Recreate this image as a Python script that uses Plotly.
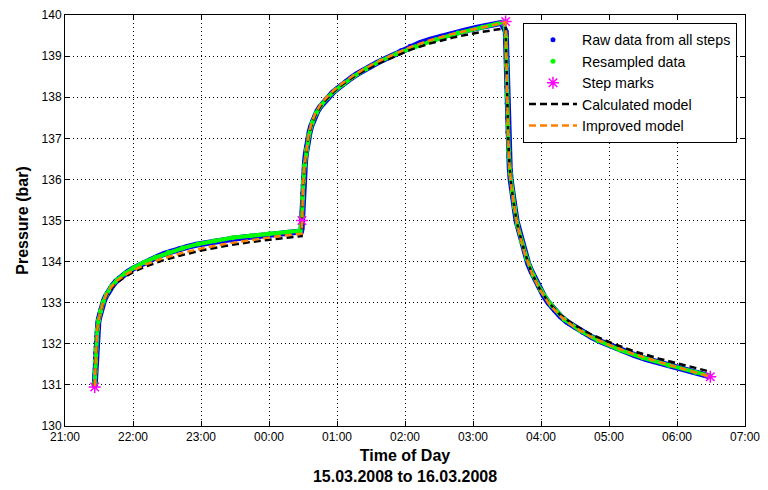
import plotly.graph_objects as go

# ---------------- data (time in hours since 00:00 of 15.03.2008) ----------------
tick_vals = [21, 22, 23, 24, 25, 26, 27, 28, 29, 30, 31]
tick_labels = ["21:00", "22:00", "23:00", "00:00", "01:00", "02:00",
               "03:00", "04:00", "05:00", "06:00", "07:00"]
y_ticks = [130, 131, 132, 133, 134, 135, 136, 137, 138, 139, 140]

raw_t = [21.437, 21.440, 21.442, 21.444, 21.446, 21.449, 21.452, 21.456, 21.460, 21.466,
         21.472, 21.480, 21.490, 21.500, 21.515, 21.530, 21.550, 21.575, 21.600, 21.630,
         21.665, 21.700, 21.750, 21.800, 21.860, 21.920, 22.000, 22.080, 22.170, 22.260,
         22.360, 22.460, 22.560, 22.680, 22.800, 22.930, 23.060, 23.200, 23.350, 23.500,
         23.650, 23.800, 23.950, 24.100, 24.250, 24.400, 24.470,
         24.480, 24.484, 24.488, 24.492, 24.497, 24.503, 24.510, 24.519, 24.530, 24.543,
         24.558, 24.576, 24.597, 24.621, 24.648, 24.678, 24.712, 24.750, 24.792, 24.838,
         24.888, 24.942, 25.000, 25.064, 25.134, 25.210, 25.292, 25.380, 25.476, 25.580,
         25.692, 25.812, 25.940, 26.076, 26.220, 26.372, 26.532, 26.700, 26.876, 27.060,
         27.250, 27.420,
         27.482, 27.486, 27.490, 27.494, 27.498, 27.503, 27.508, 27.514, 27.521, 27.530,
         27.540, 27.552, 27.566, 27.582, 27.600, 27.620, 27.642, 27.668, 27.698, 27.732,
         27.770, 27.812, 27.860, 27.914, 27.974, 28.040, 28.114, 28.196, 28.286, 28.386,
         28.496, 28.616, 28.746, 28.886, 29.036, 29.196, 29.366, 29.546, 29.736, 29.936,
         30.146, 30.366, 30.480]
raw_p = [130.97, 131.10, 131.25, 131.38, 131.50, 131.64, 131.78, 131.92, 132.04, 132.18,
         132.28, 132.39, 132.52, 132.62, 132.73, 132.84, 132.95, 133.06, 133.15, 133.24,
         133.34, 133.42, 133.52, 133.60, 133.68, 133.75, 133.83, 133.90, 133.98, 134.05,
         134.12, 134.19, 134.25, 134.31, 134.36, 134.41, 134.45, 134.49, 134.53, 134.56,
         134.59, 134.62, 134.64, 134.67, 134.69, 134.71, 134.73,
         134.80, 135.00, 135.22, 135.44, 135.66, 135.86, 136.04, 136.24, 136.44, 136.63,
         136.82, 136.99, 137.15, 137.30, 137.43, 137.55, 137.66, 137.76, 137.85, 137.94,
         138.03, 138.12, 138.20, 138.29, 138.38, 138.47, 138.56, 138.65, 138.74, 138.83,
         138.92, 139.01, 139.13, 139.24, 139.32, 139.40, 139.48, 139.55, 139.62, 139.69,
         139.75, 139.81,
         139.60, 139.30, 138.95, 138.60, 138.25, 137.85, 137.50, 137.15, 136.85, 136.55,
         136.28, 136.02, 135.80, 135.58, 135.45, 135.22, 134.98, 134.80, 134.62, 134.43,
         134.20, 133.95, 133.76, 133.57, 133.37, 133.17, 132.99, 132.82, 132.67, 132.53,
         132.41, 132.28, 132.16, 132.05, 131.94, 131.83, 131.73, 131.63, 131.54, 131.46,
         131.37, 131.27, 131.21]

res_t = [21.438, 21.443, 21.448, 21.454, 21.463, 21.476, 21.495, 21.522, 21.560, 21.610,
         21.680, 21.770, 21.880, 22.010, 22.160, 22.330, 22.520, 22.730, 22.960, 23.200,
         23.460, 23.730, 24.000, 24.280, 24.460,
         24.486, 24.494, 24.506, 24.524, 24.550, 24.586, 24.634, 24.694, 24.770, 24.862,
         24.970, 25.098, 25.250, 25.430, 25.640, 25.880, 26.150, 26.450, 26.780, 27.140,
         27.460,
         27.484, 27.492, 27.500, 27.511, 27.525, 27.546, 27.574, 27.610, 27.655, 27.715,
         27.790, 27.885, 28.000, 28.150, 28.340, 28.570, 28.840, 29.150, 29.500, 29.880,
         30.270, 30.480]
res_p = [131.05, 131.32, 131.58, 131.86, 132.12, 132.35, 132.58, 132.80, 133.01, 133.20,
         133.39, 133.56, 133.71, 133.85, 133.98, 134.10, 134.22, 134.33, 134.43, 134.51,
         134.58, 134.63, 134.68, 134.72, 134.75,
         135.10, 135.55, 135.95, 136.34, 136.73, 137.07, 137.37, 137.61, 137.81, 137.99,
         138.16, 138.33, 138.51, 138.69, 138.88, 139.06, 139.23, 139.40, 139.56, 139.70,
         139.83,
         139.45, 138.78, 138.05, 137.32, 136.70, 136.15, 135.69, 135.32, 134.88, 134.48,
         134.08, 133.67, 133.30, 132.94, 132.60, 132.33, 132.08, 131.86, 131.66, 131.48,
         131.31, 131.22]

step_t = [21.437, 24.485, 27.480, 30.490]
step_p = [130.95, 135.00, 139.84, 131.20]

calc_t = [21.437, 21.446, 21.456, 21.470, 21.490, 21.520, 21.560, 21.610, 21.680, 21.770,
          21.880, 22.020, 22.200, 22.420, 22.700, 23.000, 23.350, 23.700, 24.100, 24.480,
          24.484, 24.492, 24.503, 24.519, 24.543, 24.576, 24.621, 24.678, 24.750, 24.838,
          24.942, 25.064, 25.210, 25.380, 25.580, 25.812, 26.076, 26.372, 26.700, 27.060,
          27.420, 27.480,
          27.490, 27.498, 27.508, 27.521, 27.540, 27.566, 27.600, 27.642, 27.698, 27.770,
          27.860, 27.974, 28.114, 28.286, 28.496, 28.746, 29.036, 29.366, 29.736, 30.146,
          30.490]
calc_p = [130.97, 131.45, 131.88, 132.22, 132.50, 132.76, 132.98, 133.17, 133.35, 133.50,
          133.63, 133.76, 133.89, 134.02, 134.15, 134.27, 134.38, 134.47, 134.55, 134.62,
          135.00, 135.44, 135.86, 136.24, 136.63, 136.99, 137.30, 137.55, 137.76, 137.94,
          138.12, 138.29, 138.46, 138.63, 138.80, 138.97, 139.15, 139.31, 139.45, 139.57,
          139.67, 139.68,
          138.95, 138.25, 137.50, 136.85, 136.28, 135.80, 135.42, 134.98, 134.60, 134.18,
          133.74, 133.36, 133.00, 132.70, 132.45, 132.22, 132.02, 131.82, 131.64, 131.46,
          131.32]

impr_t = [21.437, 21.446, 21.456, 21.470, 21.490, 21.520, 21.560, 21.610, 21.680, 21.770,
          21.880, 22.020, 22.200, 22.420, 22.700, 23.000, 23.350, 23.700, 24.100, 24.480,
          24.484, 24.492, 24.503, 24.519, 24.543, 24.576, 24.621, 24.678, 24.750, 24.838,
          24.942, 25.064, 25.210, 25.380, 25.580, 25.812, 26.076, 26.372, 26.700, 27.060,
          27.420, 27.480,
          27.490, 27.498, 27.508, 27.521, 27.540, 27.566, 27.600, 27.642, 27.698, 27.770,
          27.860, 27.974, 28.114, 28.286, 28.496, 28.746, 29.036, 29.366, 29.736, 30.146,
          30.490]
impr_p = [130.97, 131.48, 131.92, 132.26, 132.52, 132.78, 133.00, 133.20, 133.38, 133.54,
          133.67, 133.80, 133.94, 134.07, 134.20, 134.32, 134.43, 134.52, 134.61, 134.68,
          135.00, 135.46, 135.88, 136.27, 136.66, 137.02, 137.34, 137.59, 137.80, 137.98,
          138.15, 138.32, 138.49, 138.67, 138.85, 139.03, 139.22, 139.39, 139.54, 139.67,
          139.79, 139.82,
          138.95, 138.25, 137.50, 136.85, 136.28, 135.80, 135.42, 134.98, 134.58, 134.16,
          133.74, 133.35, 132.98, 132.67, 132.40, 132.16, 131.95, 131.75, 131.56, 131.37,
          131.20]

# ---------------- figure ----------------
FONT = "Liberation Sans, Arial, sans-serif"
BLUE = "#0000FF"
GREEN = "#00FF00"

fig = go.Figure()
# dense-sample bands (same data, drawn as thick lines so the point clouds read as a band)
fig.add_trace(go.Scatter(x=raw_t, y=raw_p, mode="lines", showlegend=False, hoverinfo="skip",
                         line=dict(color=BLUE, width=6)))
fig.add_trace(go.Scatter(x=raw_t, y=raw_p, mode="markers", name="Raw data from all steps",
                         marker=dict(symbol="circle", size=5, color=BLUE, line=dict(width=0))))
fig.add_trace(go.Scatter(x=res_t, y=res_p, mode="lines", showlegend=False, hoverinfo="skip",
                         line=dict(color=GREEN, width=4)))
fig.add_trace(go.Scatter(x=res_t, y=res_p, mode="markers", name="Resampled data",
                         marker=dict(symbol="circle", size=5, color=GREEN, line=dict(width=0))))
fig.add_trace(go.Scatter(x=step_t, y=step_p, mode="markers", name="Step marks",
                         marker=dict(symbol="asterisk-open", size=10, color="#FF00FF",
                                     line=dict(color="#FF00FF", width=1.5))))
fig.add_trace(go.Scatter(x=calc_t, y=calc_p, mode="lines", name="Calculated model",
                         line=dict(color="#000000", width=2.5, dash="7px,4px")))
fig.add_trace(go.Scatter(x=impr_t, y=impr_p, mode="lines", name="Improved model",
                         line=dict(color="#FF8000", width=2.5, dash="7px,4px")))

axis_common = dict(showline=True, linecolor="black", linewidth=1, mirror="ticks",
                   ticks="inside", ticklen=5, tickcolor="black", automargin=False,
                   showgrid=True, gridcolor="black", gridwidth=1, griddash="1px,3px",
                   zeroline=False, tickfont=dict(family=FONT, size=12, color="black"))

fig.update_xaxes(range=[21, 31], tickmode="array", tickvals=tick_vals, ticktext=tick_labels,
                 title=dict(text="<b>Time of Day</b><br><b>15.03.2008 to 16.03.2008</b>",
                            font=dict(family=FONT, size=16, color="black"), standoff=6),
                 **axis_common)
fig.update_yaxes(range=[130, 140], tickmode="array", tickvals=y_ticks,
                 title=dict(text="<b>Pressure (bar)</b>",
                            font=dict(family=FONT, size=16, color="black"), standoff=8),
                 **axis_common)

# legend drop shadow (paper coordinates)
fig.add_shape(type="rect", xref="paper", yref="paper", layer="above",
              x0=0.678, x1=0.9875, y0=0.690, y1=0.973,
              fillcolor="#9a9a9a", line=dict(width=0))

fig.update_layout(
    width=760, height=482,
    margin=dict(l=57, r=23, t=7, b=64),
    paper_bgcolor="white", plot_bgcolor="white",
    font=dict(family=FONT, size=12, color="black"),
    legend=dict(x=0.6735, y=0.9805, xanchor="left", yanchor="top",
                bgcolor="white", bordercolor="black", borderwidth=1,
                itemwidth=48,
                font=dict(family=FONT, size=14.2, color="black")),
)

fig.write_html("out.html")
